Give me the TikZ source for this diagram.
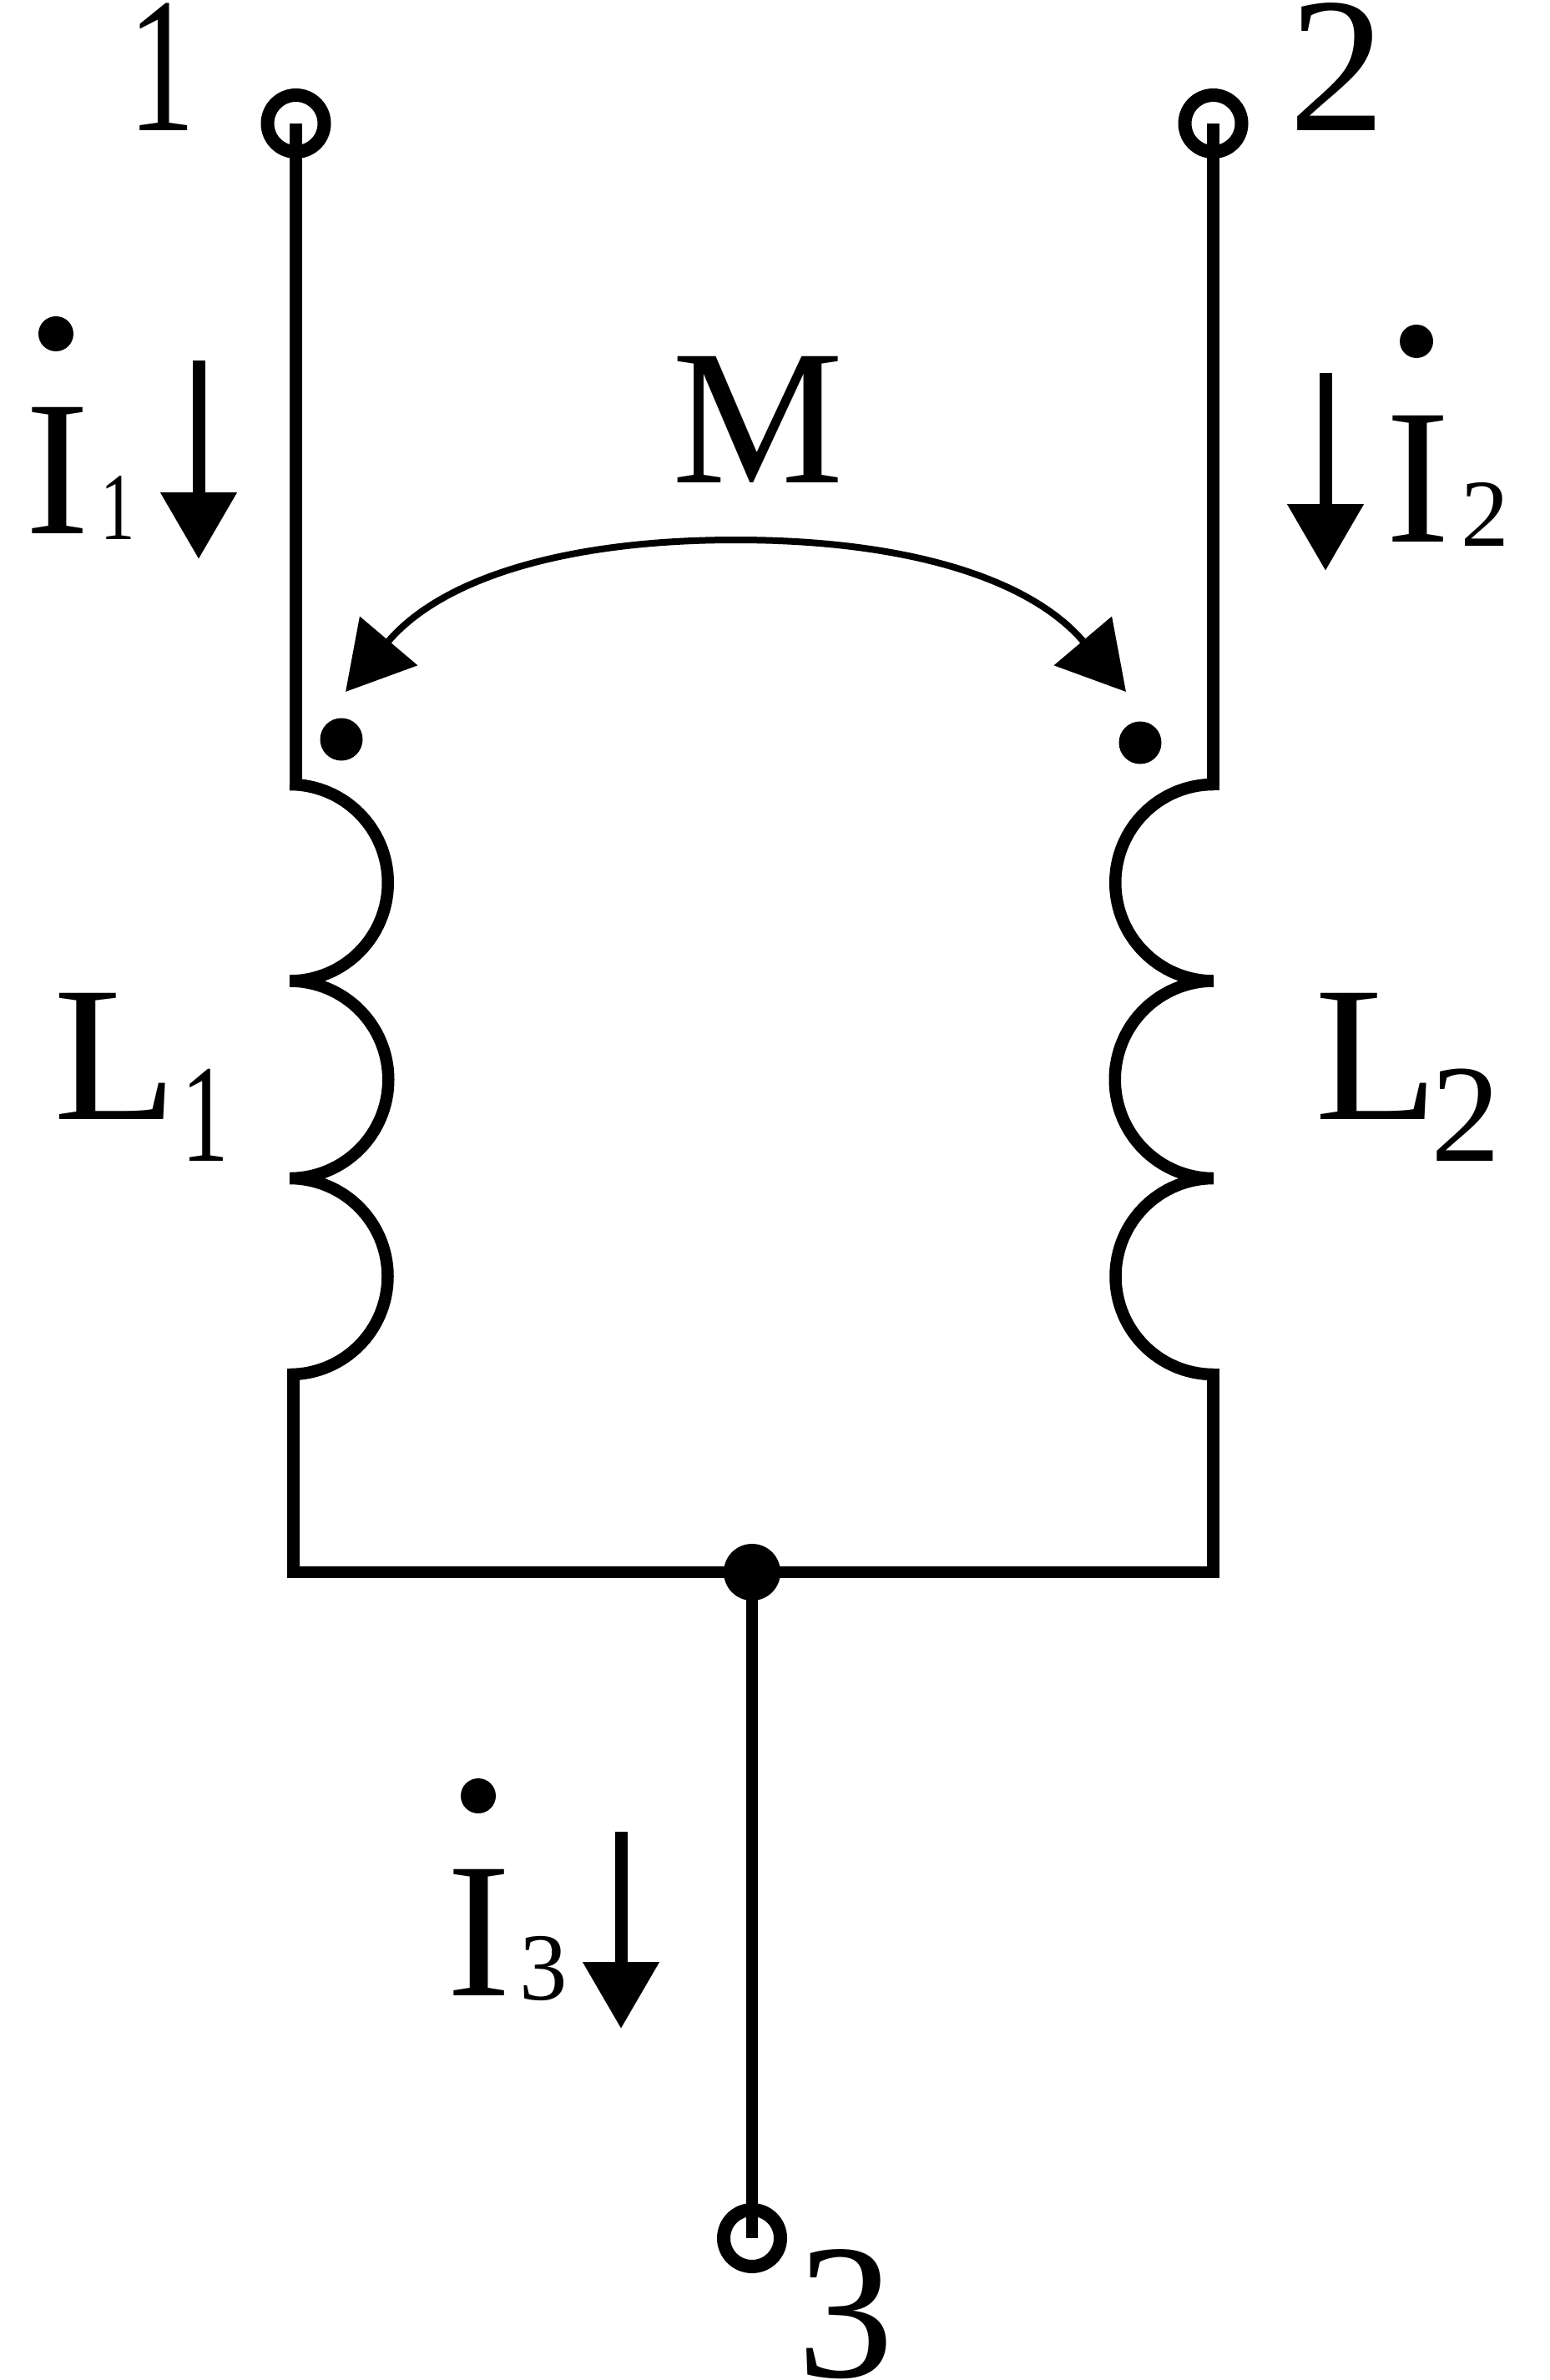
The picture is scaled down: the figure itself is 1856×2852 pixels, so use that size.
\documentclass[tikz,border=0pt]{standalone}
\usepackage{fontspec}
\setmainfont{Liberation Serif}
\usetikzlibrary{arrows.meta}
\newcommand{\narrow}[2]{\scalebox{#1}[1]{#2}}
\tikzset{
  wire/.style={line width=14.5pt,line cap=butt,line join=miter},
  coil/.style={line width=14.5pt,line cap=butt},
  terminal/.style={circle,draw,line width=16pt,minimum size=68pt,inner sep=0pt,fill=none},
  dotmark/.style={circle,fill=black,draw=none,inner sep=0pt,minimum size=#1},
  label/.style={anchor=base west,inner sep=0pt,outer sep=0pt,font=\fontsize{231pt}{231pt}\selectfont},
  digit/.style={anchor=base west,inner sep=0pt,outer sep=0pt,font=\fontsize{231pt}{231pt}\selectfont},
  sublabel/.style={anchor=base west,inner sep=0pt,outer sep=0pt,font=\fontsize{115pt}{115pt}\selectfont},
  midlabel/.style={anchor=base west,inner sep=0pt,outer sep=0pt,font=\fontsize{167pt}{167pt}\selectfont},
  current/.style={line width=15pt,-{Triangle[length=80pt,width=88pt]}},
  mutual/.style={line width=8pt,{Triangle[length=80pt,width=89pt]}-{Triangle[length=80pt,width=89pt]}},
}
\begin{document}
\begin{tikzpicture}[x=1pt,y=-1pt]
\useasboundingbox (0,0) rectangle (1856,2852);
% terminals and junction
\node[terminal] (t1) at (354.5,148) {};
\node[terminal] (t2) at (1453.5,148) {};
\node[terminal] (t3) at (901,2682) {};
\node[dotmark=68pt] (j) at (901,1884) {};
% coil end points
\coordinate (a0) at (347,940);
\coordinate (a1) at (347,1175.5);
\coordinate (a2) at (347,1412);
\coordinate (b0) at (1454,940);
\coordinate (b1) at (1454,1175.5);
\coordinate (b2) at (1454,1412);
\coordinate (ae) at (354.5,947);
\coordinate (be) at (1453.5,947);
\coordinate (as) at (351.5,1640);
\coordinate (bs) at (1453.5,1640);
\coordinate (cl) at (351.5,1884);
\coordinate (cr) at (1453.5,1884);
% wires
\draw[wire] (t1.center) -- (ae);
\draw[wire] (t2.center) -- (be);
\draw[wire] (as) -- (cl) -- (cr) -- (bs);
\draw[wire] (j.center) -- (t3.center);
% coils
\draw[coil] (a0) arc[start angle=-90,end angle=90,radius=117.75]
            (a1) arc[start angle=-90,end angle=90,radius=118.25]
            (a2) arc[start angle=-90,end angle=90,radius=117.5];
\draw[coil] (b0) arc[start angle=-90,end angle=-270,radius=117.75]
            (b1) arc[start angle=-90,end angle=-270,radius=118.25]
            (b2) arc[start angle=-90,end angle=-270,radius=117.5];
% polarity dots
\node[dotmark=51pt] (p1) at (409,886) {};
\node[dotmark=51pt] (p2) at (1366,890) {};
% mutual inductance
\coordinate (m1) at (414,829);
\coordinate (m2) at (1349,829);
\draw[mutual] (m1) .. controls (530,692) and (680,647) .. (881.5,647)
              .. controls (1083,647) and (1233,692) .. (m2);
\node[label] (M) at (805,578) {M};
% terminal labels
\node[digit] (n1) at (153,157) {\narrow{0.7}{1}};
\node[digit] (n2) at (1544,157) {2};
\node[digit] (n3) at (955,2848) {3};
% inductors
\node[label] (L1) at (64,1341) {\narrow{1.05}{L}};
\node[midlabel] (L1s) at (217,1391) {\narrow{0.68}{1}};
\node[label] (L2) at (1575,1341) {\narrow{1.05}{L}};
\node[midlabel] (L2s) at (1714,1391) {2};
% currents
\node[label] (I1) at (30,639) {I};
\node[sublabel] (I1s) at (120,646) {\narrow{0.72}{1}};
\node[dotmark=42pt] (d1) at (67,400) {};
\coordinate (c1a) at (238,432);
\coordinate (c1b) at (238,670);
\draw[current] (c1a) -- (c1b);
\node[label] (I2) at (1660,649) {I};
\node[sublabel] (I2s) at (1750,654) {2};
\node[dotmark=40pt] (d2) at (1697,409) {};
\coordinate (c2a) at (1588,447);
\coordinate (c2b) at (1588,684);
\draw[current] (c2a) -- (c2b);
\node[label] (I3) at (535,2391) {I};
\node[sublabel] (I3s) at (622,2396) {3};
\node[dotmark=42pt] (d3) at (573,2152) {};
\coordinate (c3a) at (744,2195);
\coordinate (c3b) at (744,2431);
\draw[current] (c3a) -- (c3b);
\end{tikzpicture}
\end{document}
